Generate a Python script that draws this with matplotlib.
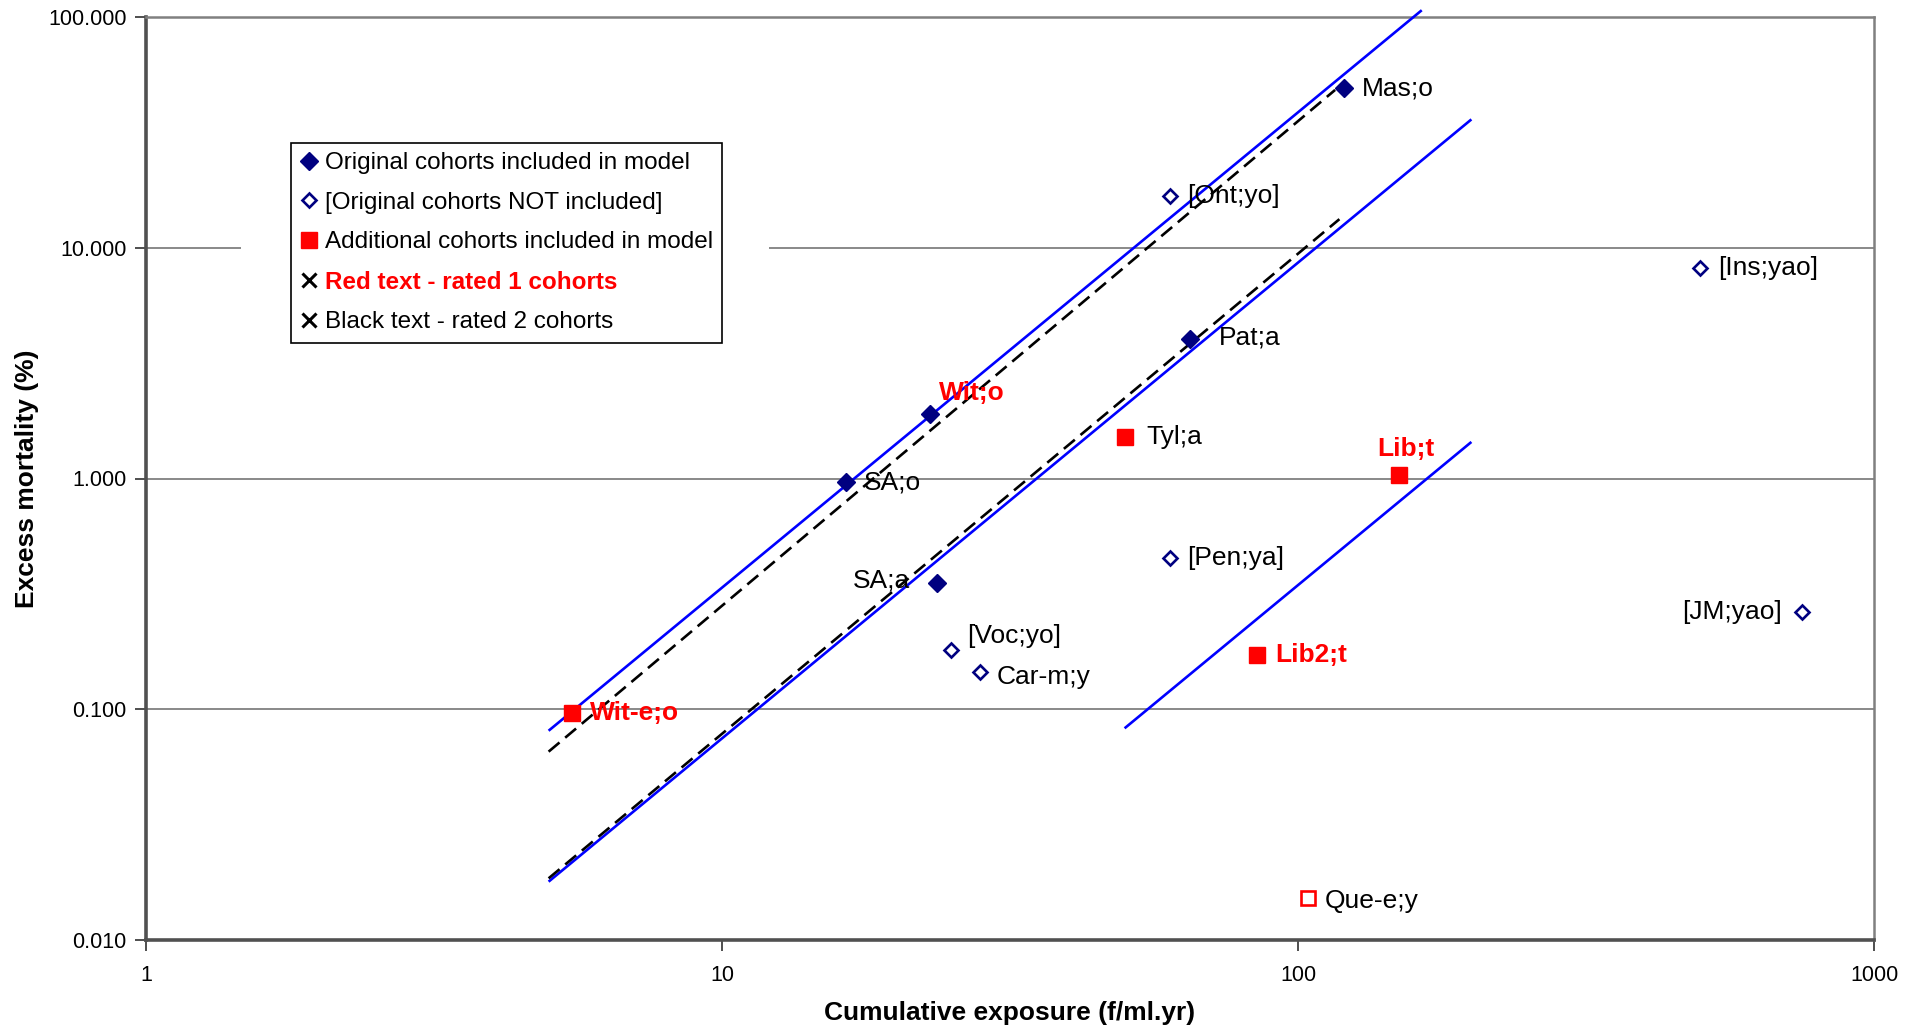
import matplotlib
matplotlib.use("Agg")
import matplotlib.pyplot as plt
from matplotlib.lines import Line2D
from matplotlib.patches import Rectangle
from matplotlib.ticker import FixedLocator, FixedFormatter, NullLocator

plt.rcParams['font.family'] = ['Liberation Sans', 'DejaVu Sans']

# ---------------- data ----------------
# Original cohorts included in model (filled navy diamonds)
orig_in_labels = ["Mas;o", "Pat;a", "Wit;o", "SA;o", "SA;a"]
orig_in_x = [120, 65, 23.0, 16.4, 23.6]
orig_in_y = [49.2, 4.02, 1.90, 0.963, 0.351]

# Original cohorts NOT included (open navy diamonds)
orig_out_labels = ["[Ont;yo]", "[Ins;yao]", "[Pen;ya]", "[JM;yao]", "[Voc;yo]", "Car-m;y"]
orig_out_x = [60, 499, 60, 749, 25.0, 28.0]
orig_out_y = [16.8, 8.17, 0.452, 0.264, 0.180, 0.145]

# Additional cohorts included in model (filled red squares)
add_in_labels = ["Wit-e;o", "Tyl;a", "Lib;t", "Lib2;t"]
add_in_x = [5.49, 50, 150, 85]
add_in_y = [0.096, 1.51, 1.035, 0.172]

# Additional cohort not included (open red square)
add_out_labels = ["Que-e;y"]
add_out_x = [104]
add_out_y = [0.0152]

# Cohorts rated 1 (red bold text)
rated1 = ["Wit;o", "Wit-e;o", "Lib;t", "Lib2;t"]

# Fitted lines (solid blue) and dashed black lines
blue_lines_x = [[5, 164], [5, 200], [50, 200]]
blue_lines_y = [[0.0807, 107], [0.0179, 36], [0.0827, 1.44]]
dash_lines_x = [[5, 116], [5, 118]]
dash_lines_y = [[0.0655, 48.3], [0.0185, 13.3]]

x_ticks = [1, 10, 100, 1000]
x_tick_labels = ["1", "10", "100", "1000"]
y_ticks = [0.01, 0.1, 1, 10, 100]
y_tick_labels = ["0.010", "0.100", "1.000", "10.000", "100.000"]

legend_labels = ["Original cohorts included in model",
                 "[Original cohorts NOT included]",
                 "Additional cohorts included in model",
                 "Red text - rated 1 cohorts",
                 "Black text - rated 2 cohorts"]

# label offsets in pixels (dx, dy) and alignment
label_style = {
    "Mas;o": (18, 0, "left"), "Pat;a": (29, 2, "left"), "Wit;o": (9, 21, "left"),
    "SA;o": (18, 0, "left"), "SA;a": (-27, 3, "right"),
    "[Ont;yo]": (17, 0, "left"), "[Ins;yao]": (18, 0, "left"), "[Pen;ya]": (17, 0, "left"),
    "[JM;yao]": (-20, 0, "right"), "[Voc;yo]": (16, 14, "left"), "Car-m;y": (17, -5, "left"),
    "Wit-e;o": (18, 0, "left"), "Tyl;a": (22, 0, "left"), "Lib;t": (6, 26, "center"),
    "Lib2;t": (18, 0, "left"), "Que-e;y": (17, -3, "left"),
}

NAVY = "#000080"
RED = "#FF0000"
BLUE = "#0000FF"

fig = plt.figure(figsize=(19.19, 10.33), dpi=100)
ax = fig.add_axes([146 / 1919, 1 - 940 / 1033, (1874 - 146) / 1919, (940 - 17) / 1033])
ax.set_xscale("log")
ax.set_yscale("log")
ax.set_xlim(1, 1000)
ax.set_ylim(0.01, 100)

# gridlines
for yv in y_ticks[1:-1]:
    ax.axhline(yv, color="#808080", lw=1.3, zorder=1)
# white area behind the legend hiding gridline
ax.add_patch(Rectangle((241, 1033 - 339), 769 - 241, 339 - 143, transform=None,
                       facecolor="white", edgecolor="none", zorder=1.5))

for xs, ys in zip(blue_lines_x, blue_lines_y):
    ax.plot(xs, ys, color=BLUE, lw=1.9, zorder=3, clip_on=False, solid_capstyle="butt")
for xs, ys in zip(dash_lines_x, dash_lines_y):
    ax.plot(xs, ys, color="black", lw=1.9, dashes=(5.4, 2.8), zorder=3, clip_on=False)

ax.plot(orig_in_x, orig_in_y, ls="none", marker="D", ms=9.3, color=NAVY, zorder=4)
ax.plot(orig_out_x, orig_out_y, ls="none", marker="D", ms=7.6, mfc="white", mec=NAVY,
        mew=1.9, zorder=4)
ax.plot(add_in_x, add_in_y, ls="none", marker="s", ms=12, color=RED, zorder=4)
ax.plot(add_out_x, add_out_y, ls="none", marker="s", ms=9.6, mfc="white", mec=RED,
        mew=1.9, zorder=4)

def put_labels(labels, xs, ys):
    for lab, x, y in zip(labels, xs, ys):
        dx, dy, ha = label_style[lab]
        red = lab in rated1
        ax.annotate(lab, (x, y), xytext=(dx, dy), textcoords="offset pixels",
                    ha=ha, va="center", fontsize=19,
                    color=RED if red else "black",
                    fontweight="bold" if red else "normal", zorder=5)

put_labels(orig_in_labels, orig_in_x, orig_in_y)
put_labels(orig_out_labels, orig_out_x, orig_out_y)
put_labels(add_in_labels, add_in_x, add_in_y)
put_labels(add_out_labels, add_out_x, add_out_y)

# axes styling
ax.xaxis.set_major_locator(FixedLocator(x_ticks))
ax.xaxis.set_major_formatter(FixedFormatter(x_tick_labels))
ax.yaxis.set_major_locator(FixedLocator(y_ticks))
ax.yaxis.set_major_formatter(FixedFormatter(y_tick_labels))
ax.xaxis.set_minor_locator(NullLocator())
ax.yaxis.set_minor_locator(NullLocator())
ax.tick_params(axis="both", direction="out", length=8, width=1.3, color="#404040")
ax.tick_params(axis="y", labelsize=15.5, pad=6)
ax.tick_params(axis="x", labelsize=15.5, pad=10)
for s in ["left", "bottom"]:
    ax.spines[s].set_linewidth(2.6)
    ax.spines[s].set_color("#505050")
for s in ["top", "right"]:
    ax.spines[s].set_linewidth(1.8)
    ax.spines[s].set_color("#808080")

fig.text(1010 / 1919, 1 - 1013 / 1033, "Cumulative exposure (f/ml.yr)", ha="center",
         va="center", fontsize=19, fontweight="bold")
fig.text(27 / 1919, 1 - 478.5 / 1033, "Excess mortality (%)", ha="center", va="center",
         rotation=90, fontsize=19, fontweight="bold")

handles = [
    Line2D([], [], ls="none", marker="D", ms=9, color=NAVY),
    Line2D([], [], ls="none", marker="D", ms=7.6, mfc="white", mec=NAVY, mew=1.9),
    Line2D([], [], ls="none", marker="s", ms=12, color=RED),
    Line2D([], [], ls="none", marker="x", ms=9.5, mec="black", mew=2.2),
    Line2D([], [], ls="none", marker="x", ms=9.5, mec="black", mew=2.2),
]
leg = ax.legend(handles, legend_labels, loc="upper left",
                bbox_to_anchor=(291 / 1919, 1 - 143 / 1033), bbox_transform=fig.transFigure,
                fontsize=17.5, frameon=True, fancybox=False, framealpha=1,
                edgecolor="black", borderpad=0.38, handlelength=0.7, handletextpad=0.3,
                labelspacing=0.72, borderaxespad=0)
leg.get_frame().set_linewidth(1.2)
leg.set_zorder(6)
t = leg.get_texts()[3]
t.set_color(RED)
t.set_fontweight("bold")

fig.savefig("out.png", dpi=100, facecolor="white")
